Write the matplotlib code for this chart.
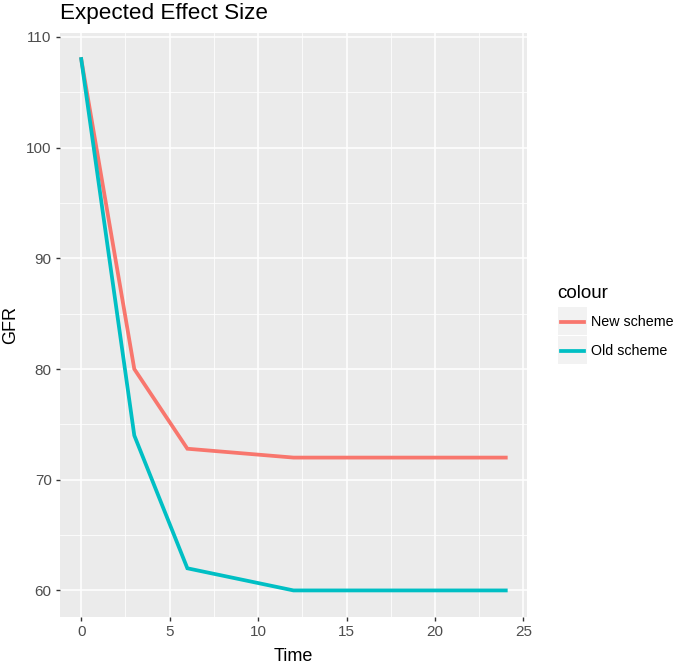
import matplotlib
matplotlib.use("Agg")
import matplotlib.pyplot as plt
from matplotlib.patches import Rectangle
from matplotlib.lines import Line2D

time = [0, 3, 6, 12, 24]
new_scheme = [108, 80, 72.8, 72, 72]
old_scheme = [108, 74, 62, 60, 60]
series_labels = ["New scheme", "Old scheme"]
colors = ["#F8766D", "#00BFC4"]
x_ticks = [0, 5, 10, 15, 20, 25]
y_ticks = [60, 70, 80, 90, 100, 110]

W, H = 685, 665
fig = plt.figure(figsize=(W / 100, H / 100), dpi=100)
plt.rcParams['font.family'] = ['Liberation Sans', 'DejaVu Sans']

l, r, t, b = 60, 527, 32.5, 617
ax = fig.add_axes([l / W, 1 - b / H, (r - l) / W, (b - t) / H])
ax.set_facecolor("#EBEBEB")
for s in ax.spines.values():
    s.set_visible(False)

ax.set_xlim(-1.2, 25.2)
ax.set_ylim(57.6, 110.4)
ax.set_xticks(x_ticks)
ax.set_yticks(y_ticks)
ax.set_xticks([2.5, 7.5, 12.5, 17.5, 22.5], minor=True)
ax.set_yticks([65, 75, 85, 95, 105], minor=True)
ax.grid(which="major", color="white", linewidth=1.1)
ax.grid(which="minor", color="white", linewidth=0.55)
ax.set_axisbelow(True)
ax.tick_params(which="major", length=3, width=1, color="#333333",
               labelcolor="#4D4D4D", labelsize=11, pad=3)
ax.tick_params(which="minor", length=0)

ax.plot(time, new_scheme, color=colors[0], linewidth=2.7, solid_joinstyle="miter")
ax.plot(time, old_scheme, color=colors[1], linewidth=2.7, solid_joinstyle="miter")

ax.set_xlabel("Time", fontsize=13, labelpad=6)
ax.set_ylabel("GFR", fontsize=13, labelpad=5)
fig.text(l / W, 1 - 13 / H, "Expected Effect Size", fontsize=16.2,
         ha="left", va="center")

# legend
fig.text(557 / W, 1 - 294 / H, "colour", fontsize=13.5, ha="left", va="center")
for i, (lab, c) in enumerate(zip(series_labels, colors)):
    y0 = 307 + i * 29
    fig.add_artist(Rectangle((558 / W, 1 - (y0 + 28) / H), 29 / W, 28 / H,
                             transform=fig.transFigure, facecolor="#F2F2F2",
                             edgecolor="none"))
    yc = y0 + 15
    fig.add_artist(Line2D([561 / W, 584 / W], [1 - yc / H, 1 - yc / H],
                          transform=fig.transFigure, color=c, linewidth=2.7))
    fig.text(591 / W, 1 - yc / H, lab, fontsize=10.3, ha="left", va="center")

fig.savefig("out.png", dpi=100)
